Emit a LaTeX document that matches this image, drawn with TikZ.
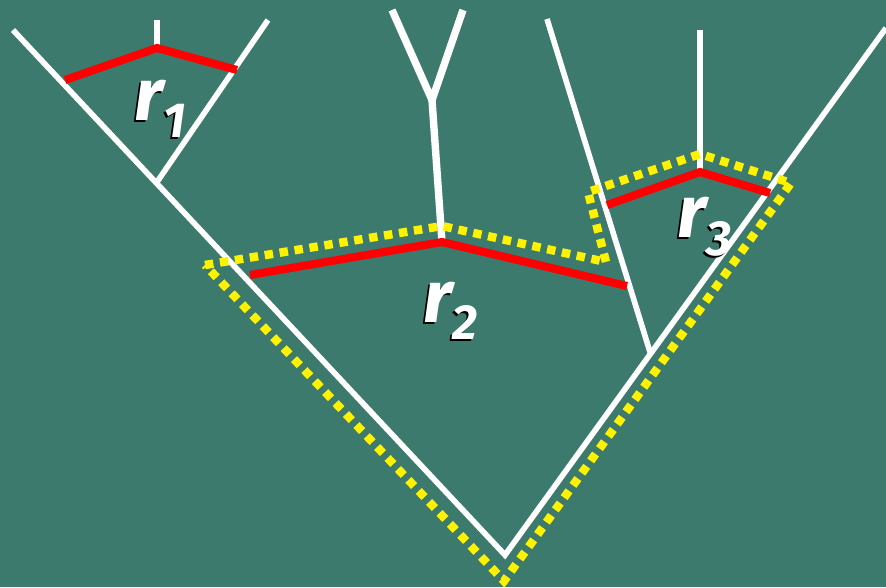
\documentclass[tikz,border=0pt]{standalone}
\usepackage{fontspec}
\newfontfamily\rotulo{Fira Sans}
\definecolor{pizarra}{RGB}{61,122,110}

\begin{document}
\begin{tikzpicture}[x=0.01cm, y=-0.01cm,
    rama/.style={white, line width=1.6pt},
    ramagruesa/.style={white, line width=2.1pt},
    corte/.style={red, line width=2.3pt},
    region/.style={yellow, line width=2.4pt, dash pattern=on 2.4pt off 1.9pt},
    etiqueta/.style={font=\rotulo\bfseries\itshape\fontsize{21}{21}\selectfont, inner sep=0pt, white},
    sombra/.style={etiqueta, black},
]

\fill [pizarra] (0,0) rectangle (886,587);
\useasboundingbox (0,0) rectangle (886,587);

% nudos del arbol
\coordinate (raiz) at (505,555);
\coordinate (n1) at (157,182);
\coordinate (n2) at (650,352);
\coordinate (y1) at (432,100);
\coordinate (c1) at (157,48);
\coordinate (c2) at (442,242);
\coordinate (c3) at (700,172);

% ramas
\draw [rama] (13,30) -- (raiz) -- (886,28);
\draw [rama] (n1) -- (268,20);
\draw [rama] (n2) -- (547,19);
\draw [rama] (c1) -- (157,20);
\draw [rama] (c3) -- (700,30);
\draw [ramagruesa] (392,10) -- (y1) -- (463,10);
\draw [ramagruesa] (y1) -- (c2);

% cortes
\draw [corte] (65,80) -- (c1) -- (237,70);
\draw [corte] (250,275) -- (c2) -- (627,286);
\draw [corte] (607,205) -- (c3) -- (770,193);

% region r2
\draw [region] (205,265) -- (442,226) -- (606,262) -- (588,192) -- (700,154) -- (791,183) -- (504,581) -- cycle;

% rotulos
\node [sombra] (r1s) at (158,111) {r\raisebox{-5pt}{\fontsize{14}{14}\selectfont 1}};
\node [etiqueta] (r1) at (160,109) {r\raisebox{-5pt}{\fontsize{14}{14}\selectfont 1}};
\node [sombra] (r2s) at (448,313) {r\raisebox{-5pt}{\fontsize{14}{14}\selectfont 2}};
\node [etiqueta] (r2) at (450,311) {r\raisebox{-5pt}{\fontsize{14}{14}\selectfont 2}};
\node [sombra] (r3s) at (703,229) {r\raisebox{-5pt}{\fontsize{14}{14}\selectfont 3}};
\node [etiqueta] (r3) at (705,227) {r\raisebox{-5pt}{\fontsize{14}{14}\selectfont 3}};

\end{tikzpicture}
\end{document}
